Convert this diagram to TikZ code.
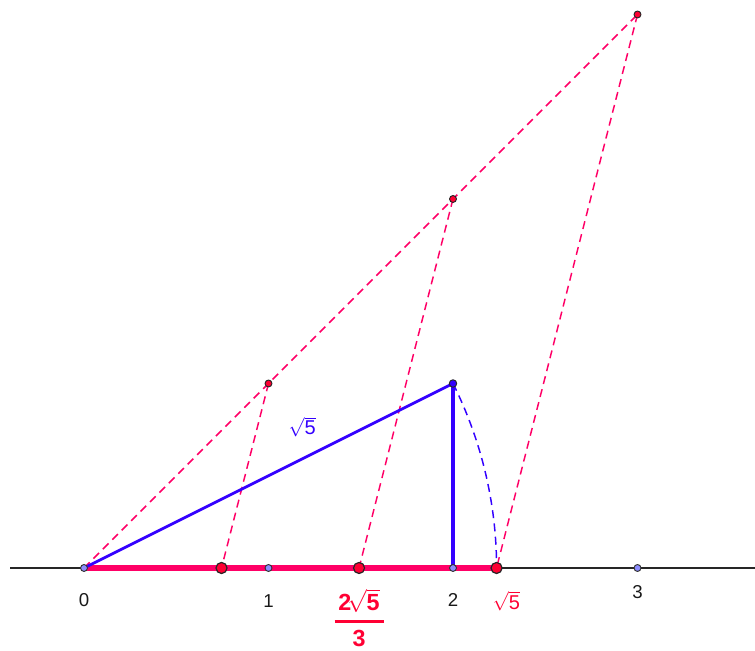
\documentclass[tikz,border=0pt]{standalone}
\usepackage{fontspec}
\setmainfont{Liberation Sans}
\begin{document}
\begin{tikzpicture}[x=138.375pt,y=138.375pt,
  axis/.style={draw=black!85, line width=1.2pt},
  redseg/.style={draw=segred, line width=3.8pt},
  reddash/.style={draw=segred, line width=1.1pt, dash pattern=on 6pt off 4pt},
  bluedash/.style={draw=segblue, line width=1.1pt, dash pattern=on 6pt off 4pt},
  smallpt/.style={circle, draw=black!80, fill=ptblue, line width=0.7pt, inner sep=0pt, minimum size=5.2pt},
  bigred/.style={circle, draw=black!85, fill=ptred, line width=0.9pt, inner sep=0pt, minimum size=8.3pt},
  smallred/.style={circle, draw=black!85, fill=ptred, line width=0.7pt, inner sep=0pt, minimum size=5.2pt},
  topblue/.style={circle, draw=black!85, fill=segblue, line width=0.7pt, inner sep=0pt, minimum size=5.6pt},
  lab/.style={font=\fontsize{14}{16}\selectfont, text=black!90, inner sep=0pt}
]
\definecolor{segred}{RGB}{255,0,102}
\definecolor{ptred}{RGB}{255,0,51}
\definecolor{segblue}{RGB}{51,0,255}
\definecolor{ptblue}{RGB}{140,140,255}
\useasboundingbox (-0.4553,-0.4499) rectangle (3.6369,3.0786);

% coordinates
\coordinate (L) at (-0.401,0);
\coordinate (R) at (3.6369,0);
\coordinate (O) at (0,0);
\coordinate (A) at (1,0);
\coordinate (B) at (2,0);
\coordinate (C) at (3,0);
\coordinate (T) at (2,1);
\coordinate (P1) at (1,1);
\coordinate (P2) at (2,2);
\coordinate (P3) at (3,3);
\coordinate (Q1) at ({sqrt(5)/3},0);
\coordinate (Q2) at ({2*sqrt(5)/3},0);
\coordinate (S) at ({sqrt(5)},0);

% number line
\draw[axis] (L) -- (R);
\draw[redseg] (O) -- (S);

% dashed construction
\draw[reddash] (O) -- (P3);
\draw[reddash] (P1) -- (Q1);
\draw[reddash] (P2) -- (Q2);
\draw[reddash] (P3) -- (S);
\draw[bluedash] (T) arc[start angle={atan(1/2)}, end angle=0, radius={sqrt(5)}];

% blue triangle sides
\draw[draw=segblue, line width=2.1pt] (O) -- (T);
\draw[draw=segblue, line width=2.6pt] (T) -- (B);

% points
\node[smallpt] (o) at (O) {};
\node[smallpt] (a) at (A) {};
\node[smallpt] (b) at (B) {};
\node[smallpt] (c) at (C) {};
\node[bigred] (q1) at (Q1) {};
\node[bigred] (q2) at (Q2) {};
\node[bigred] (s) at (S) {};
\node[smallred] (p1) at (P1) {};
\node[smallred] (p2) at (P2) {};
\node[smallred] (p3) at (P3) {};
\node[topblue] (t) at (T) {};

% labels
\node[lab] (l0) at (0,-0.175) {0};
\node[lab] (l1) at (1,-0.182) {1};
\node[lab] (l2) at (2,-0.175) {2};
\node[lab] (l3) at (3,-0.13) {3};
\node[lab, text=ptred, font=\fontsize{15}{17}\selectfont] (ls) at (2.29,-0.18) {$\sqrt{\mbox{5}}$};
\node[lab, text=segblue, font=\fontsize{15}{17}\selectfont] (lb) at (1.182,0.764) {$\sqrt{\mbox{5}}$};
\node[inner sep=0pt, text=ptred, font=\fontsize{17.5}{21}\bfseries\selectfont] (lf) at ({2*sqrt(5)/3},-0.27)
  {$\displaystyle{\mbox{\,2}\!\sqrt{\mbox{5}}\, \above 1.8pt \mbox{3}}$};
\end{tikzpicture}
\end{document}
